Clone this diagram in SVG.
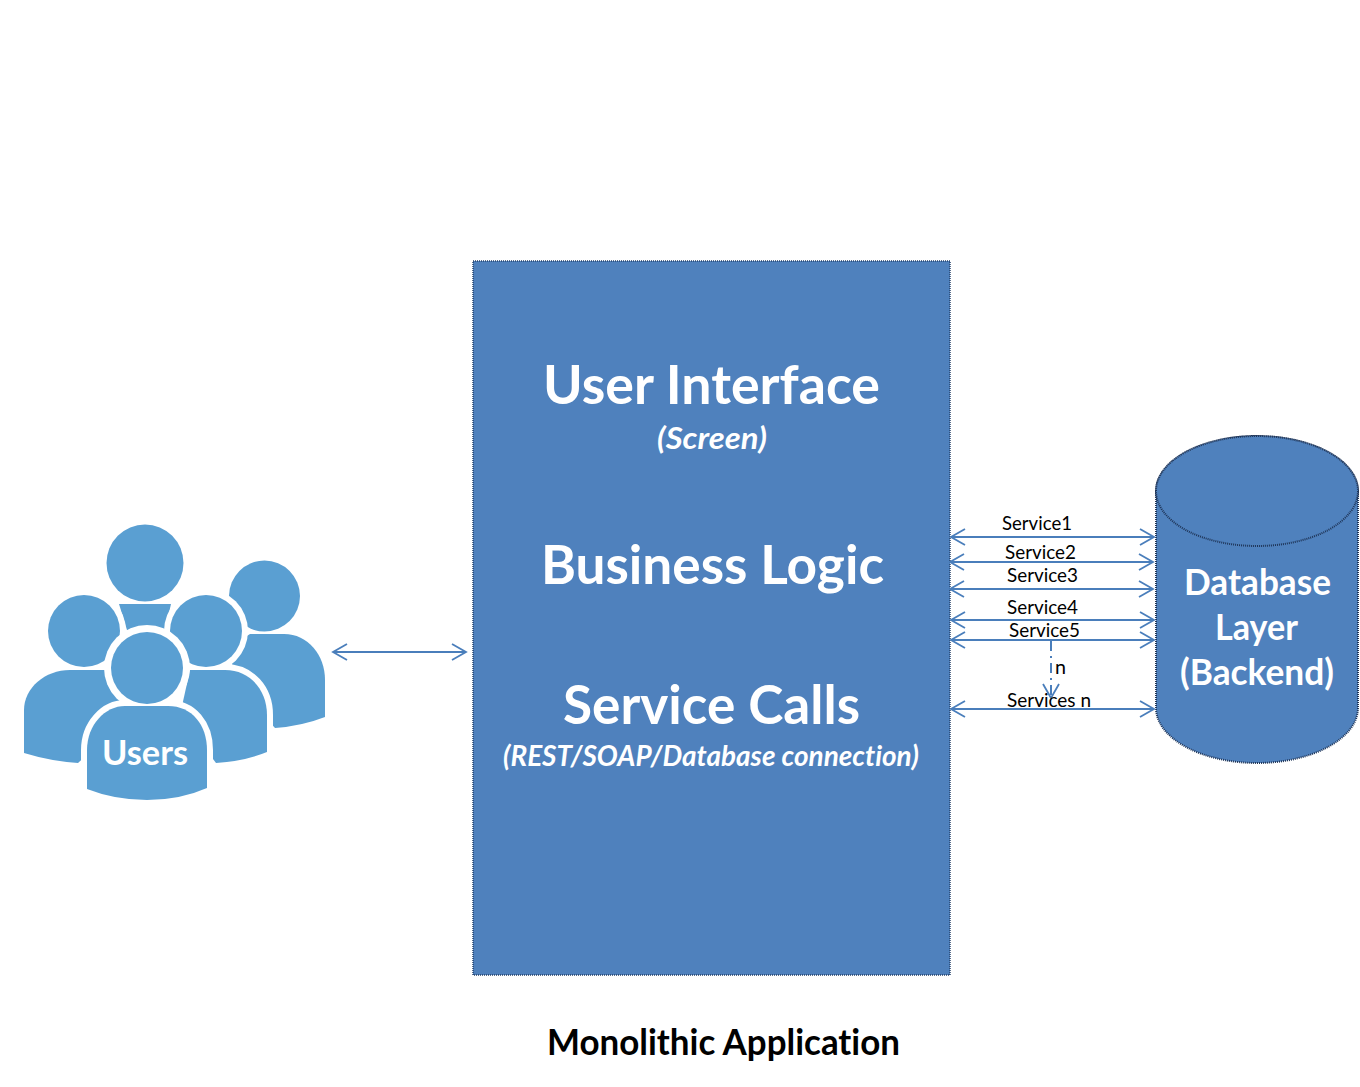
<svg xmlns="http://www.w3.org/2000/svg" width="1360" height="1087" viewBox="0 0 1360 1087">
<style>
text{font-family:Lato,"Liberation Sans",sans-serif;text-anchor:middle;font-variant-ligatures:none}
.w{fill:#fff;font-weight:700}
.it{font-style:italic}
.s{fill:#000;font-size:19px}
.box{fill:#4f81bd;stroke:#24406a;stroke-width:1.5;stroke-dasharray:1 1}
.cy{stroke-width:2;stroke:#1f3558}
.p{fill:#5a9fd2}
.o{stroke:#fff;stroke-width:12;paint-order:stroke}
.r{fill:#fff}
.c{fill:none;stroke:#4a7ebb;stroke-width:2}
</style>
<defs>
<marker id="a" markerUnits="userSpaceOnUse" markerWidth="18" markerHeight="20" refX="15" refY="10" orient="auto-start-reverse" viewBox="0 0 18 20"><path d="M1 2L15 10L1 18" fill="none" stroke="#4a7ebb" stroke-width="1.8"/></marker>
</defs>
<rect width="1360" height="1087" fill="#fff"/>
<g id="users">
<circle class="p" cx="145" cy="563" r="38.5"/>
<path class="p" d="M119 604H171L165 630H127Z"/>
<circle class="p" cx="264.5" cy="596" r="35.500"/>
<path class="p" d="M250 634H284C308 634 325 655 325 680V717Q302 726 275 728L250 700L225 650Z"/>
<circle class="r" cx="84" cy="631" r="42"/>
<path class="p o" d="M84 670H105L130 715L78 763Q50 761 24 753V710C24 688 45 670 70 670Z"/>
<circle class="p" cx="84" cy="631" r="36"/>
<circle class="r" cx="206" cy="631" r="42"/>
<path class="p o" d="M190 670H225C250 670 267 690 267 715V752Q245 761 216 763L180 715Z"/>
<circle class="p" cx="206" cy="631" r="36"/>
<circle class="r" cx="147" cy="668" r="43"/>
<path class="p o" d="M125 706H168C192 706 207 725 207 750V788Q180 800 147 800Q115 800 87 789V750C87 725 105 706 125 706Z"/>
<circle class="p" cx="147" cy="668" r="36"/>
<text class="w" x="145" y="765" font-size="34" textLength="86" lengthAdjust="spacingAndGlyphs">Users</text>
</g>
<g id="monolith">
<rect class="box" x="473" y="261" width="477" height="714"/>
<text class="w" x="711.500" y="404" font-size="54" textLength="337" lengthAdjust="spacingAndGlyphs">User Interface</text>
<text class="w it" x="712" y="449" font-size="30" textLength="110" lengthAdjust="spacingAndGlyphs">(Screen)</text>
<text class="w" x="712.500" y="584" font-size="54" textLength="343" lengthAdjust="spacingAndGlyphs">Business Logic</text>
<text class="w" x="711.500" y="724" font-size="54" textLength="297" lengthAdjust="spacingAndGlyphs">Service Calls</text>
<text class="w it" x="711" y="766" font-size="28" textLength="416" lengthAdjust="spacingAndGlyphs">(REST/SOAP/Database connection)</text>
</g>
<g id="database">
<path class="box cy" d="M1156 491V708C1156 738 1201 763 1257 763S1358 738 1358 708V491C1358 461 1313 436 1257 436S1156 461 1156 491Z"/>
<ellipse class="box cy" cx="1257" cy="491" rx="101" ry="55"/>
<text class="w" x="1257.500" y="595" font-size="36" textLength="147" lengthAdjust="spacingAndGlyphs">Database</text>
<text class="w" x="1256.500" y="640" font-size="36" textLength="83" lengthAdjust="spacingAndGlyphs">Layer</text>
<text class="w" x="1257" y="685" font-size="36" textLength="154" lengthAdjust="spacingAndGlyphs">(Backend)</text>
</g>
<g id="connectors">
<line class="c" x1="333" y1="652" x2="466" y2="652" marker-start="url(#a)" marker-end="url(#a)"/>
<line class="c" x1="951" y1="537" x2="1154" y2="537" marker-start="url(#a)" marker-end="url(#a)"/>
<line class="c" x1="950" y1="562" x2="1153" y2="562" marker-start="url(#a)" marker-end="url(#a)"/>
<line class="c" x1="950" y1="589" x2="1153" y2="589" marker-start="url(#a)" marker-end="url(#a)"/>
<line class="c" x1="951" y1="620" x2="1154" y2="620" marker-start="url(#a)" marker-end="url(#a)"/>
<line class="c" x1="951" y1="640" x2="1154" y2="640" marker-start="url(#a)" marker-end="url(#a)"/>
<line class="c" x1="951" y1="709" x2="1154" y2="709" marker-start="url(#a)" marker-end="url(#a)"/>
<line class="c" x1="1051" y1="641" x2="1051" y2="698" stroke-dasharray="10 5 2 5" marker-end="url(#a)"/>
</g>
<g id="labels">
<text class="s" x="1037" y="530" textLength="70" lengthAdjust="spacingAndGlyphs">Service1</text>
<text class="s" x="1040.500" y="559" textLength="71" lengthAdjust="spacingAndGlyphs">Service2</text>
<text class="s" x="1042.500" y="582" textLength="71" lengthAdjust="spacingAndGlyphs">Service3</text>
<text class="s" x="1042.500" y="614" textLength="71" lengthAdjust="spacingAndGlyphs">Service4</text>
<text class="s" x="1044.500" y="637" textLength="71" lengthAdjust="spacingAndGlyphs">Service5</text>
<text class="s" x="1060.500" y="674" textLength="11" lengthAdjust="spacingAndGlyphs">n</text>
<text class="s" x="1049" y="707" textLength="84" lengthAdjust="spacingAndGlyphs">Services n</text>
<text x="723.500" y="1055" font-size="36" font-weight="700" fill="#000" textLength="353" lengthAdjust="spacingAndGlyphs">Monolithic Application</text>
</g>
</svg>
